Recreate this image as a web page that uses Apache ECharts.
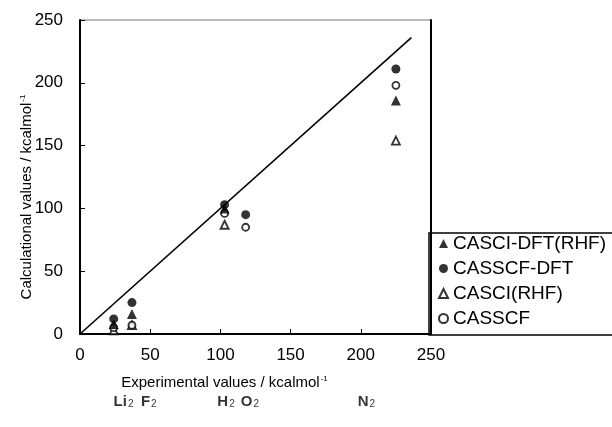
<!DOCTYPE html>
<html>
<head>
<meta charset="utf-8">
<script src="https://cdn.jsdelivr.net/npm/echarts@6/dist/echarts.min.js"></script>
<style>
html, body { margin: 0; padding: 0; background: #fff; }
#chart { width: 612px; height: 427px; }
</style>
</head>
<body>
<div id="chart"></div>
<script>
// molecules: Li2, F2, H2, O2, N2 (experimental value on x)
const casciDft = [[24, 8], [37, 16], [103, 100], [225, 186]];
const casscfDft = [[24, 12], [37, 25], [103, 103], [118, 95], [225, 211]];
const casciRhf = [[24, 3], [37, 7], [103, 87], [225, 154]];
const casscf = [[24, 5], [37, 7], [103, 96], [118, 85], [225, 198]];
const diagonal = [[0, 0], [236, 236]];

// labels written under the x axis
const moleculeNames = ['Li', 'F', 'H', 'O', 'N'];
const moleculeLabelX = [31, 49, 104, 121, 204];

const FONT = 'Liberation Sans';
const chart = echarts.init(document.getElementById('chart'));

const moleculeData = moleculeNames.map((n, i) => ({ value: [moleculeLabelX[i], 0], name: n }));

const option = {
    animation: false,
    textStyle: { fontFamily: FONT, color: '#000' },
    grid: {
        left: 80, right: 181, top: 20, bottom: 93,
        show: true, borderColor: '#777', borderWidth: 1
    },
    legend: {
        orient: 'vertical',
        left: 429, top: 233,
        padding: [1, 25, 7, 9],
        itemGap: 6,
        itemWidth: 9, itemHeight: 9,
        borderColor: '#000', borderWidth: 1.5,
        textStyle: { fontSize: 19, fontFamily: FONT, color: '#000' },
        data: ['CASCI-DFT(RHF)', 'CASSCF-DFT', 'CASCI(RHF)', 'CASSCF']
    },
    xAxis: {
        type: 'value', min: 0, max: 250, interval: 50,
        name: '{a|Experimental values / kcalmol}{s|-1}',
        nameLocation: 'middle', nameGap: 41,
        nameTextStyle: {
            padding: [0, 62, 0, 0],
            rich: {
                a: { fontSize: 15, fontFamily: FONT, color: '#000' },
                s: { fontSize: 8, fontFamily: FONT, color: '#000', verticalAlign: 'top', padding: [0, 0, 6, 1] }
            }
        },
        axisLine: { lineStyle: { color: '#000', width: 2 } },
        axisTick: { inside: true, length: 5, lineStyle: { color: '#000' } },
        axisLabel: { fontSize: 17, fontFamily: FONT, color: '#000', margin: 13 },
        splitLine: { show: false }
    },
    yAxis: [{
        type: 'value', min: 0, max: 250, interval: 50,
        name: '{a|Calculational values / kcalmol}{s|-1}',
        nameLocation: 'middle', nameRotate: 90, nameGap: 46,
        nameMoveOverlap: false,
        nameTextStyle: {
            padding: [0, 40, 0, 0],
            rich: {
                a: { fontSize: 15, fontFamily: FONT, color: '#000' },
                s: { fontSize: 8, fontFamily: FONT, color: '#000', verticalAlign: 'top', padding: [0, 0, 6, 1] }
            }
        },
        axisLine: { show: true, lineStyle: { color: '#000', width: 2 } },
        axisTick: { show: true, inside: true, length: 5, lineStyle: { color: '#000' } },
        axisLabel: { fontSize: 17, fontFamily: FONT, color: '#000', margin: 17 },
        splitLine: { show: false }
    }, {
        type: 'value', min: 0, max: 250, position: 'right',
        axisLine: { show: true, lineStyle: { color: '#000', width: 2 } },
        axisTick: { show: false }, axisLabel: { show: false }, splitLine: { show: false }
    }],
    series: [
        {
            name: 'diagonal', type: 'line', data: diagonal,
            symbol: 'none', silent: true,
            lineStyle: { color: '#000', width: 1.6 }
        },
        {
            name: 'CASCI(RHF)', type: 'scatter', data: casciRhf,
            symbol: 'triangle', symbolSize: 8,
            itemStyle: { color: '#fff', borderColor: '#000', borderWidth: 1.8 }
        },
        {
            name: 'CASSCF', type: 'scatter', data: casscf,
            symbol: 'circle', symbolSize: 7,
            itemStyle: { color: '#fff', borderColor: '#000', borderWidth: 1.8 }
        },
        {
            name: 'CASCI-DFT(RHF)', type: 'scatter', data: casciDft,
            symbol: 'triangle', symbolSize: 10,
            itemStyle: { color: '#000' }
        },
        {
            name: 'CASSCF-DFT', type: 'scatter', data: casscfDft,
            symbol: 'circle', symbolSize: 9,
            itemStyle: { color: '#000' }
        },
        {
            name: 'molecules', type: 'scatter', data: moleculeData,
            symbolSize: 0, silent: true,
            label: {
                show: true, position: 'bottom', distance: 60,
                formatter: p => '{m|' + p.name + '}{sub|2}',
                rich: {
                    m: { fontSize: 15, fontFamily: FONT, color: '#000', fontWeight: 'bold' },
                    sub: { fontSize: 10, fontFamily: FONT, color: '#000', verticalAlign: 'bottom', padding: [4, 0, 0, 1] }
                }
            }
        }
    ]
};

chart.setOption(option);
</script>
</body>
</html>
